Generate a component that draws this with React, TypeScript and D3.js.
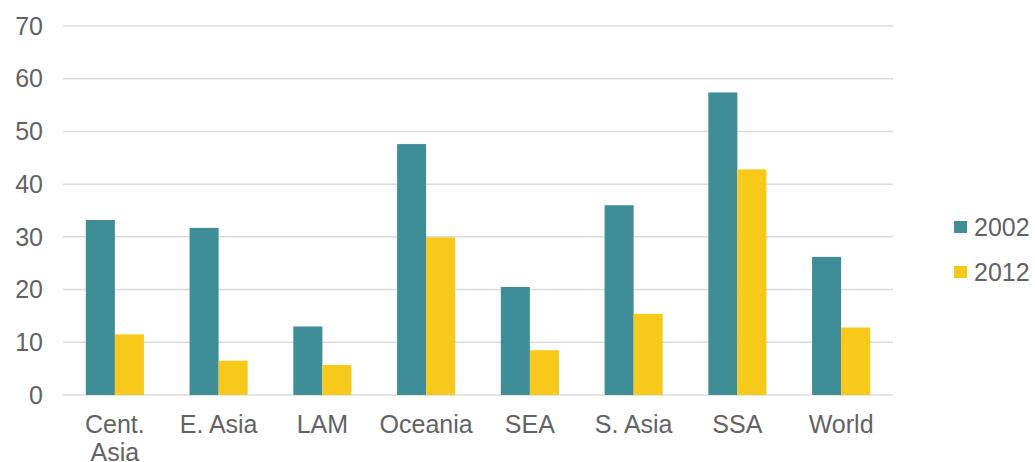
import React from "react";
import * as d3 from "d3";

// Regions shown along the x axis
const categories = ["Cent. Asia", "E. Asia", "LAM", "Oceania", "SEA", "S. Asia", "SSA", "World"];
// Series values per region
const values2002 = [33.2, 31.7, 13.0, 47.6, 20.5, 36.0, 57.4, 26.2];
const values2012 = [11.5, 6.5, 5.7, 29.9, 8.5, 15.4, 42.8, 12.8];
const seriesNames = ["2002", "2012"];
const yTicks = [0, 10, 20, 30, 40, 50, 60, 70];

const WIDTH = 1035;
const HEIGHT = 462;
const COLORS = ["#3f8e97", "#f7c91a"];
const TEXT = "#636363";
const FONT = "'Liberation Sans', Arial, sans-serif";

export default function App() {
  const plot = { left: 63, right: 893, top: 26, bottom: 395 };

  const x = d3
    .scaleBand<string>()
    .domain(categories)
    .range([plot.left, plot.right])
    .paddingInner(0.44)
    .paddingOuter(0.22);

  const inner = d3
    .scaleBand<string>()
    .domain(seriesNames)
    .range([0, x.bandwidth()]);

  const y = d3.scaleLinear().domain([0, 70]).range([plot.bottom, plot.top]);

  const series = [values2002, values2012];

  return (
    <svg
      width={WIDTH}
      height={HEIGHT}
      style={{ position: "absolute", left: 0, top: 0, background: "#fff" }}
      fontFamily={FONT}
    >
      {/* gridlines and value labels */}
      {yTicks.map((t) => (
        <g key={t}>
          <line
            x1={plot.left}
            x2={plot.right}
            y1={y(t)}
            y2={y(t)}
            stroke="#dcdcdc"
            strokeWidth={1.5}
          />
          <text
            x={43}
            y={y(t)}
            dy="0.35em"
            textAnchor="end"
            fontSize={25}
            fill={TEXT}
          >
            {t}
          </text>
        </g>
      ))}

      {/* bars */}
      {series.map((vals, si) =>
        categories.map((c, i) => (
          <rect
            key={`${si}-${c}`}
            x={(x(c) ?? 0) + (inner(seriesNames[si]) ?? 0)}
            y={y(vals[i])}
            width={inner.bandwidth()}
            height={y(0) - y(vals[i])}
            fill={COLORS[si]}
          />
        ))
      )}

      {/* category labels; the longest one wraps onto two lines */}
      {categories.map((c) => {
        const cx = (x(c) ?? 0) + x.bandwidth() / 2;
        const lines = c === "Cent. Asia" ? c.split(" ") : [c];
        return (
          <text key={c} x={cx} y={433} textAnchor="middle" fontSize={25} fill={TEXT}>
            {lines.map((l, li) => (
              <tspan key={li} x={cx} dy={li === 0 ? 0 : 28}>
                {l}
              </tspan>
            ))}
          </text>
        );
      })}

      {/* legend */}
      {seriesNames.map((s, si) => (
        <g key={s} transform={`translate(954, ${227 + si * 45})`}>
          <rect x={0} y={-6} width={13} height={12} fill={COLORS[si]} />
          <text x={20} y={0} dy="0.35em" fontSize={25} fill={TEXT}>
            {s}
          </text>
        </g>
      ))}
    </svg>
  );
}
